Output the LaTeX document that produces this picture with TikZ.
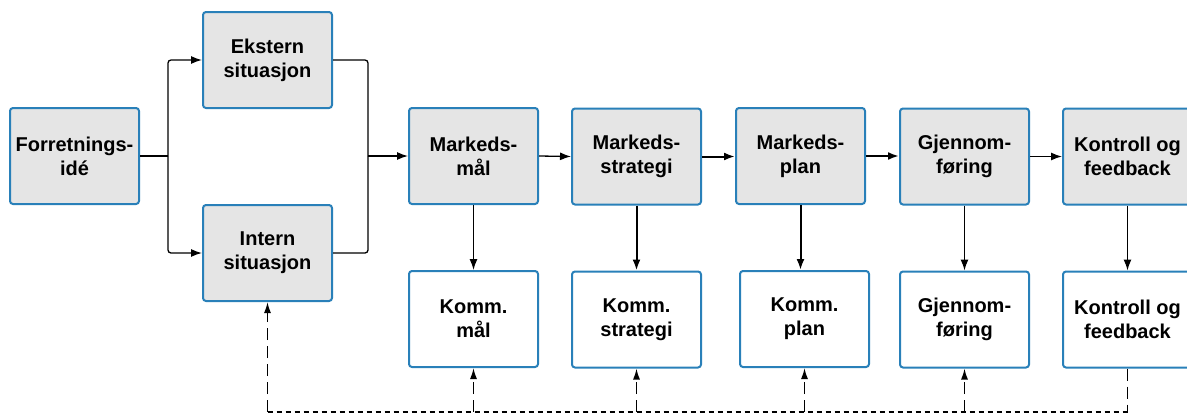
\documentclass[tikz,border=0pt]{standalone}
\usepackage{fontspec}
\setmainfont{Liberation Sans}
\usetikzlibrary{arrows.meta}
\definecolor{boxblue}{RGB}{41,128,185}
\definecolor{boxgray}{RGB}{229,229,229}
\begin{document}
\begin{tikzpicture}[x=1pt,y=-1pt,
  box/.style={draw=boxblue,line width=2pt,rounded corners=3pt,minimum width=129pt,minimum height=96pt,inner sep=0pt,align=center,font=\fontsize{20}{24}\selectfont\bfseries},
  gbox/.style={box,fill=boxgray},
  wbox/.style={box,fill=white},
  wire/.style={line width=1.3pt,rounded corners=3pt},
  conn/.style={wire,-{Latex[length=11pt,width=8pt]}},
  bconn/.style={line width=2pt,-{Latex[length=11pt,width=8pt]}},
  dwire/.style={line width=1.5pt,dash pattern=on 12pt off 6pt},
  dconn/.style={dwire,-{Latex[length=11pt,width=7pt]}},
  hdash/.style={line width=1.3pt,dash pattern=on 5pt off 4pt}
]
\clip (0,0) rectangle (1187,413);
\fill[white] (0,0) rectangle (1187,413);

\node[gbox] (fi) at (74.5,156) {Forretnings-\\idé};
\node[gbox] (ek) at (267.5,60) {Ekstern\\situasjon};
\node[gbox] (in) at (267.5,253) {Intern\\situasjon};
\node[gbox] (mm) at (473.5,156) {Markeds-\\mål};
\node[gbox] (ms) at (636.5,156.5) {Markeds-\\strategi};
\node[gbox] (mp) at (800.5,156) {Markeds-\\plan};
\node[gbox] (gj) at (964.5,156.5) {Gjennom-\\føring};
\node[gbox] (kf) at (1127.5,156.5) {Kontroll og\\feedback};

\node[wbox] (km) at (473.5,319) {Komm.\\mål};
\node[wbox] (ks) at (636.5,319.5) {Komm.\\strategi};
\node[wbox] (kp) at (804.5,319) {Komm.\\plan};
\node[wbox] (kg) at (964.5,319.5) {Gjennom-\\føring};
\node[wbox] (kk) at (1127.5,319.5) {Kontroll og\\feedback};

\coordinate (split) at (168,156);
\coordinate (join) at (368,156);
\coordinate (d0) at (267.5,412);

\draw[wire] (fi.east) -- (split);
\draw[conn] (split) |- (ek.west);
\draw[conn] (split) |- (in.west);
\draw[wire] (ek.east) -| (join);
\draw[wire] (in.east) -| (join);
\draw[conn] (join) -- (mm.west);

\draw[conn] (mm.east) -- (ms.west);
\draw[bconn] (ms.east) -- (ms.east -| mp.west);
\draw[bconn] (mp.east) -- (mp.east -| gj.west);
\draw[conn] (gj.east) -- (gj.east -| kf.west);

\draw[conn] (mm.south) -- (km.north);
\draw[bconn] (ms.south) -- (ks.north);
\draw[bconn] (mp.south) -- (mp.south |- kp.north);
\draw[conn] (gj.south) -- (kg.north);
\draw[conn] (kf.south) -- (kk.north);

\draw[hdash] (d0) -- (kk.south |- d0);
\draw[dconn] (d0) -- (in.south);
\draw[dconn] (km.south |- d0) -- (km.south);
\draw[dconn] (ks.south |- d0) -- (ks.south);
\draw[dconn] (kp.south |- d0) -- (kp.south);
\draw[dconn] (kg.south |- d0) -- (kg.south);
\draw[dwire] (kk.south) -- (kk.south |- d0);
\end{tikzpicture}
\end{document}
